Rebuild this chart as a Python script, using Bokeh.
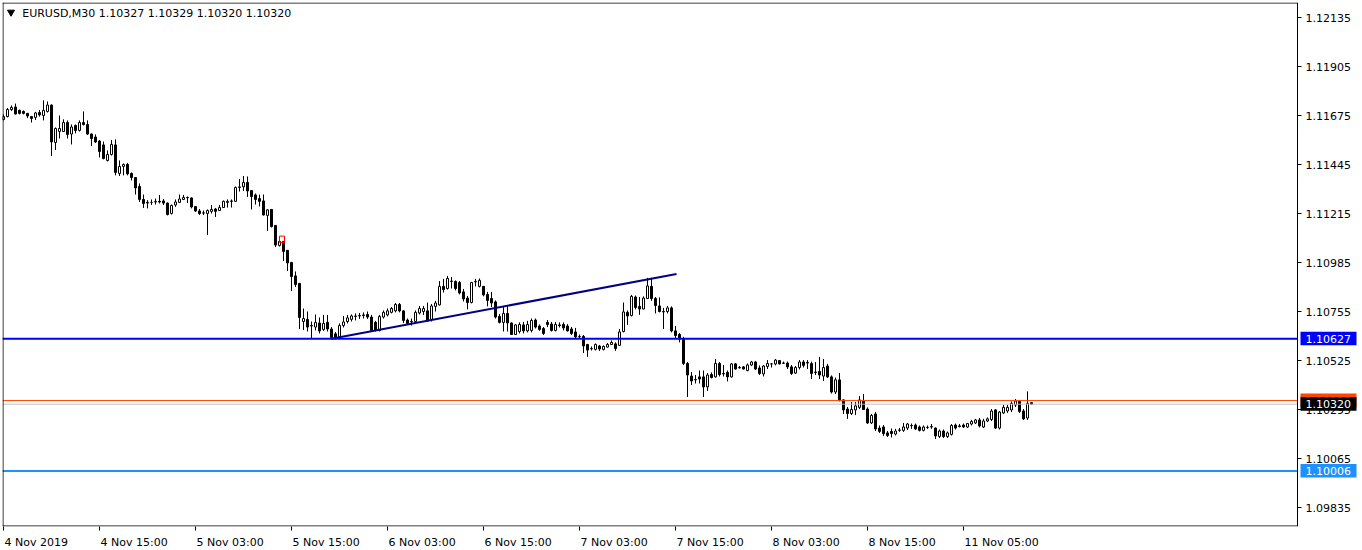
from bokeh.plotting import figure
from bokeh.models import Range1d, FixedTicker, Label, ColumnDataSource
from bokeh.core.properties import value
from bokeh.embed import file_html
from bokeh.resources import INLINE

title_text = "EURUSD,M30  1.10327 1.10329 1.10320 1.10320"

opens = [
    1.11656, 1.11670, 1.11703, 1.11715, 1.11699, 1.11694, 1.11685, 1.11670, 1.11666, 1.11689,
    1.11675, 1.11694, 1.11724, 1.11548, 1.11600, 1.11600, 1.11642, 1.11588, 1.11628, 1.11605,
    1.11642, 1.11633, 1.11588, 1.11574, 1.11555, 1.11537, 1.11464, 1.11492, 1.11537, 1.11403,
    1.11436, 1.11445, 1.11403, 1.11384, 1.11342, 1.11281, 1.11267, 1.11267, 1.11269, 1.11272,
    1.11274, 1.11264, 1.11215, 1.11255, 1.11267, 1.11281, 1.11290, 1.11288, 1.11248, 1.11227,
    1.11218, 1.11215, 1.11225, 1.11236, 1.11229, 1.11243, 1.11267, 1.11272, 1.11272, 1.11337,
    1.11340, 1.11361, 1.11323, 1.11302, 1.11285, 1.11274, 1.11206, 1.11234, 1.11159, 1.11065,
    1.11084, 1.11042, 1.10985, 1.10922, 1.10887, 1.10708, 1.10718, 1.10689, 1.10682, 1.10701,
    1.10671, 1.10704, 1.10673, 1.10650, 1.10636, 1.10689, 1.10708, 1.10718, 1.10732, 1.10734,
    1.10736, 1.10741, 1.10729, 1.10704, 1.10666, 1.10729, 1.10739, 1.10751, 1.10758, 1.10788,
    1.10758, 1.10715, 1.10706, 1.10708, 1.10748, 1.10755, 1.10758, 1.10718, 1.10779, 1.10786,
    1.10873, 1.10863, 1.10898, 1.10896, 1.10891, 1.10847, 1.10818, 1.10797, 1.10894, 1.10873,
    1.10873, 1.10835, 1.10816, 1.10800, 1.10732, 1.10704, 1.10746, 1.10701, 1.10647, 1.10661,
    1.10692, 1.10664, 1.10666, 1.10715, 1.10687, 1.10675, 1.10704, 1.10696, 1.10666, 1.10692,
    1.10694, 1.10687, 1.10673, 1.10659, 1.10638, 1.10638, 1.10600, 1.10581, 1.10577, 1.10593,
    1.10577, 1.10588, 1.10600, 1.10603, 1.10596, 1.10661, 1.10751, 1.10736, 1.10823, 1.10779,
    1.10767, 1.10816, 1.10873, 1.10816, 1.10781, 1.10755, 1.10755, 1.10772, 1.10664, 1.10647,
    1.10626, 1.10511, 1.10452, 1.10434, 1.10448, 1.10448, 1.10401, 1.10459, 1.10448, 1.10511,
    1.10464, 1.10469, 1.10448, 1.10509, 1.10490, 1.10495, 1.10478, 1.10504, 1.10518, 1.10490,
    1.10462, 1.10497, 1.10509, 1.10509, 1.10525, 1.10513, 1.10513, 1.10495, 1.10466, 1.10492,
    1.10518, 1.10516, 1.10511, 1.10471, 1.10474, 1.10452, 1.10499, 1.10448, 1.10377, 1.10434,
    1.10340, 1.10297, 1.10276, 1.10293, 1.10305, 1.10335, 1.10297, 1.10232, 1.10274, 1.10208,
    1.10213, 1.10185, 1.10192, 1.10180, 1.10197, 1.10197, 1.10208, 1.10220, 1.10222, 1.10213,
    1.10197, 1.10211, 1.10213, 1.10208, 1.10168, 1.10194, 1.10168, 1.10178, 1.10222, 1.10218,
    1.10222, 1.10213, 1.10227, 1.10232, 1.10246, 1.10213, 1.10241, 1.10248, 1.10293, 1.10208,
    1.10279, 1.10288, 1.10293, 1.10316, 1.10333, 1.10288, 1.10255, 1.10327,
]

highs = [
    1.11680, 1.11710, 1.11722, 1.11731, 1.11703, 1.11699, 1.11687, 1.11673, 1.11692, 1.11701,
    1.11746, 1.11741, 1.11727, 1.11619, 1.11675, 1.11657, 1.11652, 1.11633, 1.11633, 1.11652,
    1.11694, 1.11652, 1.11591, 1.11586, 1.11560, 1.11553, 1.11511, 1.11560, 1.11563, 1.11464,
    1.11450, 1.11452, 1.11408, 1.11386, 1.11356, 1.11304, 1.11278, 1.11281, 1.11285, 1.11302,
    1.11283, 1.11267, 1.11257, 1.11281, 1.11304, 1.11302, 1.11295, 1.11290, 1.11250, 1.11236,
    1.11229, 1.11234, 1.11255, 1.11241, 1.11255, 1.11276, 1.11281, 1.11281, 1.11342, 1.11377,
    1.11391, 1.11389, 1.11325, 1.11309, 1.11304, 1.11304, 1.11234, 1.11236, 1.11161, 1.11086,
    1.11086, 1.11044, 1.10988, 1.10943, 1.10889, 1.10769, 1.10755, 1.10708, 1.10741, 1.10727,
    1.10739, 1.10739, 1.10682, 1.10659, 1.10699, 1.10734, 1.10739, 1.10741, 1.10746, 1.10748,
    1.10751, 1.10755, 1.10739, 1.10711, 1.10739, 1.10760, 1.10769, 1.10776, 1.10795, 1.10795,
    1.10760, 1.10722, 1.10722, 1.10760, 1.10781, 1.10781, 1.10797, 1.10790, 1.10805, 1.10898,
    1.10908, 1.10922, 1.10917, 1.10901, 1.10898, 1.10861, 1.10828, 1.10894, 1.10908, 1.10910,
    1.10875, 1.10847, 1.10847, 1.10807, 1.10743, 1.10776, 1.10781, 1.10704, 1.10696, 1.10704,
    1.10706, 1.10711, 1.10722, 1.10722, 1.10694, 1.10682, 1.10715, 1.10706, 1.10706, 1.10704,
    1.10704, 1.10696, 1.10682, 1.10678, 1.10647, 1.10645, 1.10603, 1.10591, 1.10605, 1.10598,
    1.10596, 1.10607, 1.10619, 1.10610, 1.10673, 1.10797, 1.10760, 1.10833, 1.10830, 1.10823,
    1.10826, 1.10913, 1.10913, 1.10823, 1.10821, 1.10772, 1.10781, 1.10779, 1.10687, 1.10654,
    1.10636, 1.10518, 1.10471, 1.10457, 1.10478, 1.10478, 1.10466, 1.10469, 1.10532, 1.10518,
    1.10504, 1.10478, 1.10513, 1.10513, 1.10499, 1.10499, 1.10511, 1.10523, 1.10523, 1.10502,
    1.10504, 1.10527, 1.10513, 1.10532, 1.10527, 1.10520, 1.10520, 1.10504, 1.10499, 1.10527,
    1.10527, 1.10527, 1.10520, 1.10518, 1.10542, 1.10532, 1.10509, 1.10455, 1.10445, 1.10466,
    1.10342, 1.10307, 1.10330, 1.10330, 1.10358, 1.10368, 1.10305, 1.10274, 1.10283, 1.10220,
    1.10222, 1.10194, 1.10206, 1.10204, 1.10208, 1.10232, 1.10232, 1.10229, 1.10229, 1.10220,
    1.10220, 1.10220, 1.10227, 1.10211, 1.10201, 1.10201, 1.10192, 1.10227, 1.10229, 1.10227,
    1.10229, 1.10232, 1.10246, 1.10251, 1.10255, 1.10251, 1.10258, 1.10297, 1.10297, 1.10288,
    1.10316, 1.10316, 1.10333, 1.10344, 1.10340, 1.10297, 1.10380, 1.10329,
]

lows = [
    1.11652, 1.11666, 1.11696, 1.11680, 1.11680, 1.11680, 1.11663, 1.11642, 1.11654, 1.11670,
    1.11652, 1.11689, 1.11485, 1.11513, 1.11567, 1.11598, 1.11567, 1.11539, 1.11591, 1.11600,
    1.11628, 1.11584, 1.11532, 1.11546, 1.11478, 1.11469, 1.11459, 1.11487, 1.11394, 1.11391,
    1.11394, 1.11394, 1.11370, 1.11304, 1.11269, 1.11241, 1.11239, 1.11255, 1.11257, 1.11262,
    1.11255, 1.11206, 1.11210, 1.11246, 1.11264, 1.11278, 1.11264, 1.11239, 1.11222, 1.11208,
    1.11208, 1.11114, 1.11215, 1.11199, 1.11227, 1.11241, 1.11243, 1.11243, 1.11269, 1.11318,
    1.11321, 1.11293, 1.11234, 1.11257, 1.11248, 1.11206, 1.11133, 1.11149, 1.11058, 1.11060,
    1.10992, 1.10945, 1.10851, 1.10870, 1.10673, 1.10668, 1.10661, 1.10628, 1.10666, 1.10652,
    1.10664, 1.10661, 1.10624, 1.10624, 1.10633, 1.10680, 1.10699, 1.10708, 1.10713, 1.10720,
    1.10722, 1.10720, 1.10661, 1.10661, 1.10661, 1.10722, 1.10732, 1.10746, 1.10751, 1.10751,
    1.10701, 1.10692, 1.10689, 1.10699, 1.10741, 1.10739, 1.10708, 1.10708, 1.10755, 1.10783,
    1.10844, 1.10858, 1.10863, 1.10854, 1.10835, 1.10802, 1.10765, 1.10793, 1.10873, 1.10868,
    1.10826, 1.10779, 1.10776, 1.10722, 1.10699, 1.10661, 1.10661, 1.10645, 1.10645, 1.10652,
    1.10652, 1.10657, 1.10657, 1.10675, 1.10664, 1.10645, 1.10682, 1.10661, 1.10661, 1.10680,
    1.10666, 1.10661, 1.10645, 1.10626, 1.10628, 1.10560, 1.10542, 1.10572, 1.10572, 1.10570,
    1.10572, 1.10586, 1.10598, 1.10570, 1.10593, 1.10657, 1.10692, 1.10732, 1.10765, 1.10739,
    1.10765, 1.10814, 1.10805, 1.10746, 1.10751, 1.10673, 1.10746, 1.10657, 1.10626, 1.10610,
    1.10504, 1.10354, 1.10410, 1.10417, 1.10417, 1.10354, 1.10382, 1.10441, 1.10445, 1.10450,
    1.10450, 1.10427, 1.10445, 1.10483, 1.10488, 1.10483, 1.10474, 1.10499, 1.10481, 1.10457,
    1.10450, 1.10485, 1.10492, 1.10502, 1.10506, 1.10509, 1.10485, 1.10457, 1.10462, 1.10483,
    1.10492, 1.10485, 1.10438, 1.10457, 1.10438, 1.10429, 1.10443, 1.10370, 1.10368, 1.10333,
    1.10274, 1.10251, 1.10269, 1.10269, 1.10297, 1.10293, 1.10227, 1.10227, 1.10194, 1.10185,
    1.10171, 1.10166, 1.10164, 1.10173, 1.10190, 1.10190, 1.10199, 1.10204, 1.10199, 1.10192,
    1.10192, 1.10204, 1.10204, 1.10157, 1.10161, 1.10161, 1.10161, 1.10173, 1.10201, 1.10211,
    1.10208, 1.10208, 1.10220, 1.10227, 1.10211, 1.10208, 1.10236, 1.10241, 1.10204, 1.10201,
    1.10274, 1.10279, 1.10283, 1.10307, 1.10279, 1.10246, 1.10246, 1.10320,
]

closes = [
    1.11670, 1.11703, 1.11713, 1.11682, 1.11685, 1.11685, 1.11673, 1.11661, 1.11687, 1.11678,
    1.11699, 1.11724, 1.11551, 1.11614, 1.11614, 1.11642, 1.11586, 1.11621, 1.11605, 1.11642,
    1.11633, 1.11588, 1.11567, 1.11551, 1.11506, 1.11473, 1.11492, 1.11539, 1.11408, 1.11436,
    1.11445, 1.11401, 1.11384, 1.11335, 1.11281, 1.11262, 1.11264, 1.11267, 1.11272, 1.11269,
    1.11264, 1.11210, 1.11253, 1.11269, 1.11283, 1.11290, 1.11289, 1.11246, 1.11227, 1.11215,
    1.11217, 1.11229, 1.11234, 1.11225, 1.11243, 1.11272, 1.11272, 1.11274, 1.11337, 1.11340,
    1.11361, 1.11321, 1.11295, 1.11281, 1.11272, 1.11208, 1.11232, 1.11154, 1.11067, 1.11084,
    1.11037, 1.10983, 1.10919, 1.10882, 1.10727, 1.10722, 1.10682, 1.10687, 1.10704, 1.10664,
    1.10699, 1.10673, 1.10633, 1.10633, 1.10689, 1.10706, 1.10725, 1.10734, 1.10734, 1.10736,
    1.10739, 1.10729, 1.10666, 1.10666, 1.10732, 1.10751, 1.10758, 1.10769, 1.10788, 1.10758,
    1.10713, 1.10699, 1.10708, 1.10751, 1.10769, 1.10769, 1.10711, 1.10781, 1.10795, 1.10873,
    1.10858, 1.10910, 1.10896, 1.10863, 1.10842, 1.10814, 1.10797, 1.10891, 1.10896, 1.10901,
    1.10833, 1.10807, 1.10795, 1.10729, 1.10704, 1.10746, 1.10701, 1.10647, 1.10692, 1.10694,
    1.10664, 1.10694, 1.10713, 1.10682, 1.10671, 1.10652, 1.10694, 1.10666, 1.10694, 1.10689,
    1.10678, 1.10664, 1.10652, 1.10636, 1.10637, 1.10593, 1.10574, 1.10580, 1.10600, 1.10579,
    1.10591, 1.10600, 1.10610, 1.10581, 1.10659, 1.10753, 1.10734, 1.10826, 1.10774, 1.10767,
    1.10818, 1.10875, 1.10816, 1.10783, 1.10755, 1.10753, 1.10772, 1.10664, 1.10642, 1.10626,
    1.10511, 1.10457, 1.10429, 1.10436, 1.10438, 1.10401, 1.10457, 1.10445, 1.10511, 1.10459,
    1.10462, 1.10448, 1.10509, 1.10485, 1.10492, 1.10485, 1.10504, 1.10518, 1.10485, 1.10464,
    1.10499, 1.10511, 1.10509, 1.10527, 1.10509, 1.10512, 1.10495, 1.10464, 1.10492, 1.10518,
    1.10502, 1.10513, 1.10464, 1.10469, 1.10457, 1.10492, 1.10448, 1.10377, 1.10434, 1.10340,
    1.10293, 1.10276, 1.10295, 1.10312, 1.10340, 1.10295, 1.10232, 1.10267, 1.10204, 1.10192,
    1.10182, 1.10173, 1.10182, 1.10194, 1.10199, 1.10213, 1.10227, 1.10219, 1.10204, 1.10197,
    1.10213, 1.10210, 1.10215, 1.10171, 1.10194, 1.10168, 1.10185, 1.10220, 1.10208, 1.10215,
    1.10213, 1.10229, 1.10239, 1.10246, 1.10218, 1.10241, 1.10251, 1.10288, 1.10208, 1.10283,
    1.10305, 1.10305, 1.10323, 1.10335, 1.10286, 1.10251, 1.10323, 1.10320,
]

x_tick_bars = [0, 24, 48, 72, 96, 120, 144, 168, 192, 216, 240]
x_tick_labels = ["4 Nov 2019", "4 Nov 15:00", "5 Nov 03:00", "5 Nov 15:00", "6 Nov 03:00",
                 "6 Nov 15:00", "7 Nov 03:00", "7 Nov 15:00", "8 Nov 03:00", "8 Nov 15:00",
                 "11 Nov 05:00"]
y_ticks = [1.12135, 1.11905, 1.11675, 1.11445, 1.11215, 1.10985, 1.10755,
           1.10525, 1.10295, 1.10065, 1.09835]
y_tick_labels = ["1.12135", "1.11905", "1.11675", "1.11445", "1.11215", "1.10985", "1.10755",
                 "1.10525", "1.10295", "1.10065", "1.09835"]

resistance_level = 1.10627
support_level = 1.10006
bid_price = 1.10320
ask_price = 1.10337
trend_bars = [82, 168.25]
trend_prices = [1.10627, 1.10931]
box_bars = [69, 70.25]
box_prices = [1.11079, 1.11109]

n = len(opens)
assert len(highs) == n and len(lows) == n and len(closes) == n

FONT = "DejaVu Sans"
FS = "11px"
PX_PER_BAR = 4
CHART_W = 1295          # chart window width (px); the price scale sits right of it
FW, FH = 1358, 524      # frame covers chart window + price scale column
x0 = -0.25
x_axis_pos = x0 + CHART_W / PX_PER_BAR
x_end = x0 + FW / PX_PER_BAR
tick_step = 0.0023
tick_px = 49.0
y1 = y_ticks[0] + 15 * tick_step / tick_px
y0 = y_ticks[0] - 509 * tick_step / tick_px
ppp = (y1 - y0) / FH
def px(v):
    return v / PX_PER_BAR

p = figure(frame_width=FW, frame_height=FH,
           x_range=Range1d(x0, x_end), y_range=Range1d(y0, y1),
           y_axis_location=None, output_backend="svg", toolbar_location=None,
           min_border_left=2, min_border_top=2, min_border_right=0, min_border_bottom=0)
p.outline_line_color = None
p.xgrid.visible = False
p.ygrid.visible = False
p.background_fill_color = "white"
p.border_fill_color = "white"

# time scale: tick marks (minor ticks) at the bars, labels start at their tick (MT4 style)
char_w = {d: 7.0 for d in "0123456789"}
char_w.update({" ": 3.5, "N": 8.2, "o": 6.7, "v": 6.5, ":": 3.7})
label_pos = [b + px(1 + sum(char_w.get(ch, 7.0) for ch in lab) / 2)
             for b, lab in zip(x_tick_bars, x_tick_labels)]
xa = p.xaxis[0]
xa.ticker = FixedTicker(ticks=label_pos, minor_ticks=x_tick_bars)
xa.major_label_overrides = {pos: lab for pos, lab in zip(label_pos, x_tick_labels)}
xa.major_tick_out = 0
xa.major_tick_in = 0
xa.minor_tick_out = 4
xa.minor_tick_in = 0
xa.minor_tick_line_color = "black"
xa.axis_line_color = None
xa.major_label_standoff = 5
xa.major_label_text_font = FONT
xa.major_label_text_font_size = FS
xa.major_label_text_color = "black"

# candles
idx = list(range(n))
src = ColumnDataSource(dict(
    x=idx,
    high=highs,
    low=lows,
    top=[max(o, c) for o, c in zip(opens, closes)],
    bottom=[min(o, c) for o, c in zip(opens, closes)],
    fill=["white" if c > o else "black" for o, c in zip(opens, closes)],
))
p.segment(x0="x", y0="low", x1="x", y1="high", source=src, line_color="black", line_width=1)
p.vbar(x="x", width=0.5, top="top", bottom="bottom", fill_color="fill",
       line_color="black", line_width=1, source=src)

# drawn objects
p.line(trend_bars, trend_prices, line_color="#000080", line_width=2)
p.quad(left=[box_bars[0]], right=[box_bars[1]], bottom=[box_prices[0]], top=[box_prices[1]],
       fill_color=None, line_color="red", line_width=1)

levels = [resistance_level, support_level, ask_price, bid_price]
level_colors = ["#0000ff", "#1e90ff", "#ff4500", "#c0c0c0"]
level_widths = [2, 2, 1, 1]
for lv, col, lw in zip(levels, level_colors, level_widths):
    p.segment(x0=[x0], y0=[lv], x1=[x_axis_pos], y1=[lv], line_color=col, line_width=lw)

# chart window border (left, top, bottom) and price axis line
p.segment(x0=[x0 + px(0.5), x0, x0, x_axis_pos],
          y0=[y0, y1 - 0.5 * ppp, y0 + 0.5 * ppp, y0],
          x1=[x0 + px(0.5), x_axis_pos, x_axis_pos, x_axis_pos],
          y1=[y1, y1 - 0.5 * ppp, y0 + 0.5 * ppp, y1],
          line_color="black", line_width=1)

# price scale: tick marks and labels
p.segment(x0=[x_axis_pos] * len(y_ticks), y0=y_ticks,
          x1=[x_axis_pos + px(4)] * len(y_ticks), y1=y_ticks,
          line_color="black", line_width=1)
p.text(x=[x_axis_pos + px(8)] * len(y_ticks), y=y_ticks, text=y_tick_labels,
       text_font=value(FONT), text_font_size=FS, text_color="black",
       text_baseline="middle", text_align="left")

# price tags, drawn one after another so that the Bid tag covers the Ask tag
tag_prices = [resistance_level, support_level, ask_price, bid_price]
tag_colors = ["#0000ff", "#1e90ff", "#ff4500", "#000000"]
for t, col in zip(tag_prices, tag_colors):
    p.quad(left=[x_axis_pos + px(3)], right=[x_axis_pos + px(59)],
           bottom=[t - 6.5 * ppp], top=[t + 7 * ppp], fill_color=col, line_color=None)
    p.text(x=[x_axis_pos + px(8)], y=[t], text=["%.5f" % t],
           text_font=value(FONT), text_font_size=FS, text_color="white",
           text_baseline="middle", text_align="left")

# title inside the chart window
p.add_layout(Label(x=x0 + px(19.7), y=y1 - 10.8 * ppp, text=title_text,
                   text_font=FONT, text_font_size=FS, text_color="black", text_baseline="middle"))
p.scatter([x0 + px(8.5)], [y1 - 9.7 * ppp], marker="inverted_triangle", size=7, color="black")

open("out.html", "w").write(file_html(p, INLINE))
